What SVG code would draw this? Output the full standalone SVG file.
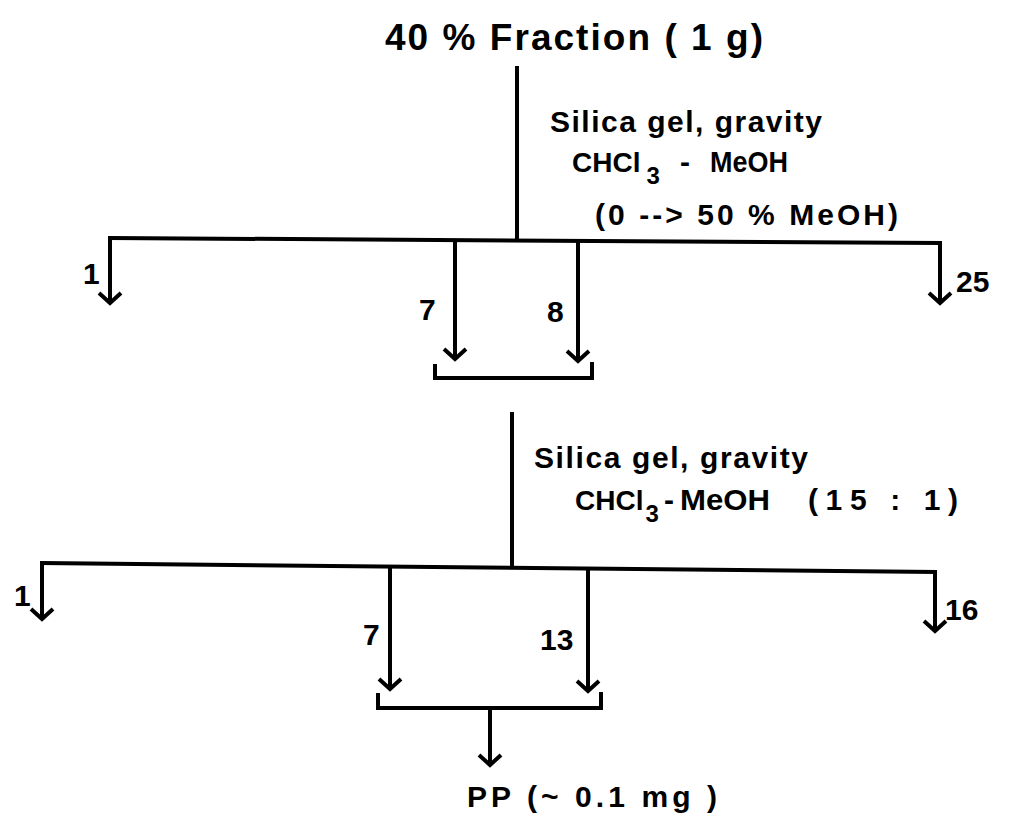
<svg xmlns="http://www.w3.org/2000/svg" width="1014" height="822" viewBox="0 0 1014 822">
<defs>
<marker id="ah" markerUnits="userSpaceOnUse" viewBox="-14 -14 28 28" markerWidth="28" markerHeight="28" refX="0" refY="0" orient="auto">
<path d="M-11,-11 L-1,0 L-11,11" fill="none" stroke="#000" stroke-width="4"/>
</marker>
<style>
text{font-family:"Liberation Sans","DejaVu Sans",sans-serif;font-weight:bold;fill:#000}
.t{font-size:37px}
.m{font-size:30px}
.c{font-size:28px}
.s{font-size:24px}
.ln{stroke:#000;stroke-width:4;fill:none;stroke-linecap:square}
.ar{stroke:#000;stroke-width:4;fill:none;marker-end:url(#ah)}
</style>
</defs>
<rect width="1014" height="822" fill="#fff"/>
<g id="connectors">
<path class="ln" d="M517,68 L517,240"/>
<path class="ln" d="M110,238 L940,243"/>
<path class="ar" d="M110,238 L110,304"/>
<path class="ar" d="M940,243 L940,304"/>
<path class="ar" d="M455,241 L455,360"/>
<path class="ar" d="M578,242 L578,362"/>
<path class="ln" d="M435,366 L435,378 L592,378 L592,364"/>
<path class="ln" d="M512,414 L512,566"/>
<path class="ln" d="M42,563 L935,572"/>
<path class="ar" d="M42,563 L42,620"/>
<path class="ar" d="M935,572 L935,632"/>
<path class="ar" d="M390,566 L390,690"/>
<path class="ar" d="M588,568 L588,692"/>
<path class="ln" d="M378,695 L378,708 L601,708 L601,694"/>
<path class="ar" d="M490,708 L490,766"/>
</g>
<g id="title"><text class="t" x="385" y="50" textLength="378">40 % Fraction ( 1 g)</text></g>
<g id="step1">
<text class="m" x="550" y="132" textLength="272">Silica gel, gravity</text>
<text class="c" x="572" y="172">CHCl<tspan class="s" dx="6" dy="12">3</tspan></text>
<text class="m" x="680" y="172">-</text>
<text class="m" x="710" y="172" textLength="78" lengthAdjust="spacingAndGlyphs">MeOH</text>
<text class="m" x="595" y="225" textLength="303">(0 --&gt; 50 % MeOH)</text>
</g>
<g id="fractions1">
<text class="m" x="83" y="284">1</text>
<text class="m" x="419" y="320">7</text>
<text class="m" x="547" y="322">8</text>
<text class="m" x="956" y="292">25</text>
</g>
<g id="step2">
<text class="m" x="534" y="468" textLength="274">Silica gel, gravity</text>
<text class="c" x="575" y="510">CHCl<tspan class="s" dx="2" dy="12">3</tspan></text>
<text class="m" x="664" y="510">-</text>
<text class="m" x="680" y="510" textLength="90" lengthAdjust="spacingAndGlyphs">MeOH</text>
<text class="m" x="808" y="510" textLength="150">(15 : 1)</text>
</g>
<g id="fractions2">
<text class="m" x="14" y="606">1</text>
<text class="m" x="363" y="645">7</text>
<text class="m" x="540" y="650">13</text>
<text class="m" x="945" y="620">16</text>
</g>
<g id="product"><text class="m" x="467" y="807" textLength="250">PP  (~ 0.1 mg )</text></g>
</svg>
